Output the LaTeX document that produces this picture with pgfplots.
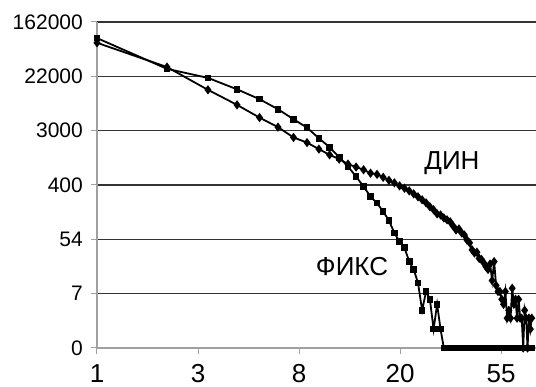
\documentclass[border=0pt]{standalone}
\usepackage{pgfplots}
\pgfplotsset{compat=1.18}
\usepackage{pgfplotstable}
\usepackage{fontspec}
\setmainfont{Liberation Sans}
\definecolor{gridc}{HTML}{333333}
\definecolor{axc}{HTML}{A0A0A0}

\pgfplotstableread{
x y
1 90000
2 29000
3 20800
4 13650
5 9500
6 6560
7 4540
8 3330
9 2250
10 1620
11 1120
12 795
13 550
14 380
15 263
16 206
17 151
18 108
19 68
20 49
21 39
22 23
23 17
24 10
25 3
26 7
27 5
28 1
29 4
30 1
31 0
32 0
33 0
34 0
35 0
36 0
37 0
38 0
39 0
40 0
41 0
42 0
43 0
44 0
45 0
46 0
47 0
48 0
49 0
50 0
51 0
52 0
53 0
54 0
55 0
56 0
57 0
58 0
59 0
60 0
61 0
62 0
63 0
64 0
65 0
66 0
67 0
68 0
69 0
70 0
71 0
72 0
73 0
74 0
}\fiks

\pgfplotstableread{
x y
1 75700
2 31000
3 13400
4 7700
5 4820
6 3390
7 2320
8 1920
9 1510
10 1225
11 1045
12 870
13 780
14 706
15 622
16 596
17 534
18 478
19 436
20 390
21 356
22 324
23 290
24 260
25 233
26 208
27 180
28 161
29 138
30 133
31 119
32 111
33 103
34 88
35 76
36 79
37 68
38 63
39 52
40 47
41 36
42 32
43 33
44 26
45 25
46 22
47 19
48 17
49 21
50 11
51 23
52 9
53 7
54 7
55 5
56 4
57 7
58 2
59 3
60 2
61 8
62 4
63 5
64 2
65 5
66 2
67 2
68 0
69 3
70 2
71 0
72 2
73 1
74 2
}\din

\begin{document}
\begin{tikzpicture}
\path[use as bounding box] (-97pt,-39pt) rectangle (439pt,348pt);
\begin{axis}[
  at={(0,0)}, anchor=south west,
  scale only axis, width=439pt, height=326pt,
  xmode=log, ymode=log, log basis x=2.718281828, log basis y=2.718281828,
  xmin=1, xmax=77.2, ymin=1, ymax=162754.8,
  axis x line*=bottom, axis y line*=left,
  axis line style={color=axc, line width=1.2pt},
  xtick={1,2.718281828,7.389056,20.085537,54.59815},
  xticklabels={1,3,8,20,55},
  ytick={1,7.389056,54.59815,403.4288,2980.958,22026.47,162754.8},
  yticklabels={0,7,54,400,3000,22000,162000},
  minor xtick={}, minor ytick={},
  tick align=outside, major tick length=6pt,
  tick style={color=axc, line width=1pt},
  ymajorgrids, major grid style={color=gridc, line width=1.2pt},
  xticklabel style={font=\fontsize{26}{30}\selectfont, anchor=north, inner sep=0pt, yshift=-10pt},
  yticklabel style={font=\fontsize{21}{25}\selectfont, anchor=east, inner sep=0pt, xshift=-8pt},
  clip=false,
]
\addplot[black, line width=1.8pt, mark=square*, mark size=2.4pt, mark options={solid}]
  table[x=x, y expr=\thisrow{y}+1] {\fiks};
\addplot[black, line width=1.8pt, mark=diamond*, mark size=3.2pt, mark options={solid}]
  table[x=x, y expr=\thisrow{y}+1] {\din};
\node[font=\fontsize{26}{30}\selectfont, inner sep=0pt] at (axis cs:33.6,907) {ДИН};
\node[font=\fontsize{26}{30}\selectfont, inner sep=0pt] at (axis cs:12.49,19.7) {ФИКС};
\end{axis}
\end{tikzpicture}
\end{document}
